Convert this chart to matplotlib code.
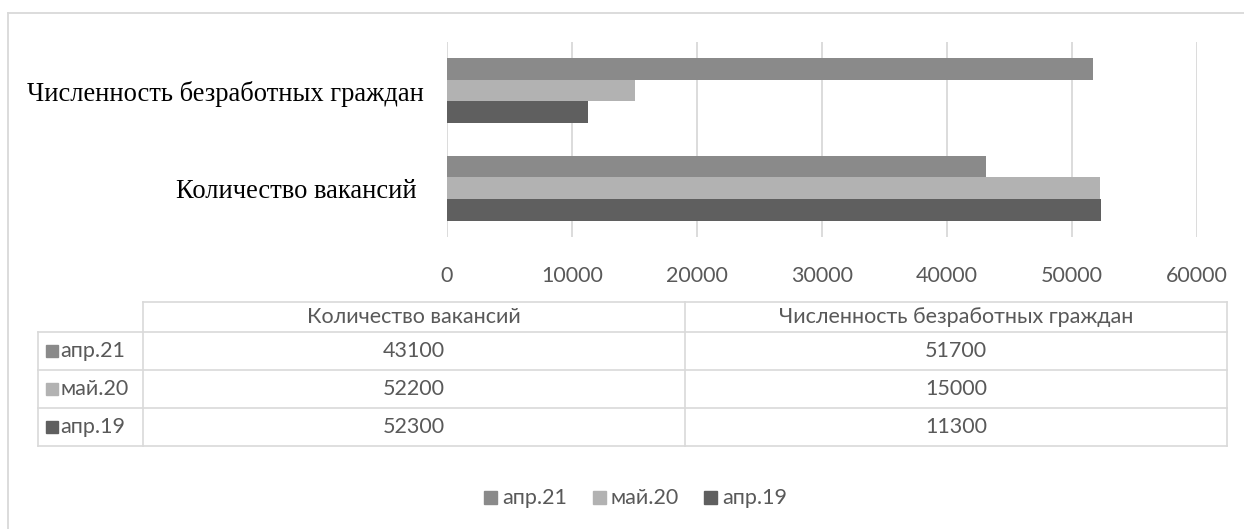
import matplotlib
matplotlib.use("Agg")
import matplotlib.pyplot as plt
import matplotlib.transforms as mtransforms
import numpy as np

# Data
categories = ["Количество вакансий", "Численность безработных граждан"]
series_names = ["апр.21", "май.20", "апр.19"]
values = {
    "апр.21": [43100, 51700],
    "май.20": [52200, 15000],
    "апр.19": [52300, 11300],
}
xticks = [0, 10000, 20000, 30000, 40000, 50000, 60000]

colors = {"апр.21": "#8a8a8a", "май.20": "#b2b2b2", "апр.19": "#5f5f5f"}
text_gray = "#595959"
line_gray = "#d9d9d9"
sans = "Lato"
serif = "Liberation Serif"
fs = 15.5

W, H = 1244, 529
fig = plt.figure(figsize=(W / 100, H / 100), dpi=100)

# Bar chart area
ax_l, ax_r, ax_t, ax_b = 447, 1197, 41.7, 237
ax = fig.add_axes([ax_l / W, 1 - ax_b / H, (ax_r - ax_l) / W, (ax_b - ax_t) / H])
bar_h = 0.222
offsets = {"апр.21": bar_h, "май.20": 0.0, "апр.19": -bar_h}
y = np.arange(len(categories))
for name in series_names:
    ax.barh(y + offsets[name], values[name], height=bar_h, color=colors[name],
            edgecolor="none", zorder=3)
ax.set_xlim(0, 60000)
ax.set_ylim(-0.5, 1.5)
ax.set_xticks(xticks)
ax.set_xticklabels([str(v) for v in xticks], fontfamily=sans, fontsize=fs,
                   color=text_gray)
ax.tick_params(axis="x", length=0, pad=21)
ax.set_yticks(y)
ax.set_yticklabels(categories, fontfamily=serif, fontsize=19.1, color="black")
ax.tick_params(axis="y", length=0, pad=16.5)
# the shorter category label sits slightly further left
lbl = ax.get_yticklabels()[0]
lbl.set_transform(lbl.get_transform() +
                  mtransforms.ScaledTranslation(-7 / 100, 0, fig.dpi_scale_trans))
ax.grid(axis="x", color=line_gray, linewidth=1.3, zorder=0)
for s in ax.spines.values():
    s.set_visible(False)

# Overlay in pixel coordinates for border, data table and legend
ov = fig.add_axes([0, 0, 1, 1], zorder=-1)
ov.set_xlim(0, W)
ov.set_ylim(H, 0)
ov.axis("off")
ov.patch.set_alpha(0)

# chart border
ov.plot([8.3, W], [12.6, 12.6], color=line_gray, lw=1.3)
ov.plot([8.3, 8.3], [12.6, H], color=line_gray, lw=1.3)

# data table
t_left, t_c1, t_c2, t_right = 37.5, 143, 685, 1227
rows = [302.3, 332, 370, 408, 445.5]
tl = dict(color=line_gray, lw=1.2)
ov.plot([t_c1, t_right], [rows[0], rows[0]], **tl)
for r in rows[1:]:
    ov.plot([t_left, t_right], [r, r], **tl)
ov.plot([t_left, t_left], [rows[1], rows[-1]], **tl)
for xc in (t_c1, t_c2, t_right):
    ov.plot([xc, xc], [rows[0], rows[-1]], **tl)

col_centers = [(t_c1 + t_c2) / 2, (t_c2 + t_right) / 2]
hdr_y = (rows[0] + rows[1]) / 2
for cx, cat in zip(col_centers, categories):
    ov.text(cx, hdr_y, cat, ha="center", va="center", fontfamily=sans,
            fontsize=fs, color=text_gray)
for i, name in enumerate(series_names):
    ry = (rows[i + 1] + rows[i + 2]) / 2
    ov.add_patch(plt.Rectangle((46, ry - 6), 12, 12, color=colors[name]))
    ov.text(60, ry, name, ha="left", va="center", fontfamily=sans,
            fontsize=fs, color=text_gray)
    for cx, v in zip(col_centers, values[name]):
        ov.text(cx, ry, str(v), ha="center", va="center", fontfamily=sans,
                fontsize=fs, color=text_gray)

# legend
leg_y = 497.5
leg_x = [484, 593, 704]
for lx, name in zip(leg_x, series_names):
    ov.add_patch(plt.Rectangle((lx, leg_y - 6.5), 13, 13, color=colors[name]))
    ov.text(lx + 18, leg_y, name, ha="left", va="center", fontfamily=sans,
            fontsize=fs, color=text_gray)

fig.savefig("out.png", dpi=100, facecolor="white")
